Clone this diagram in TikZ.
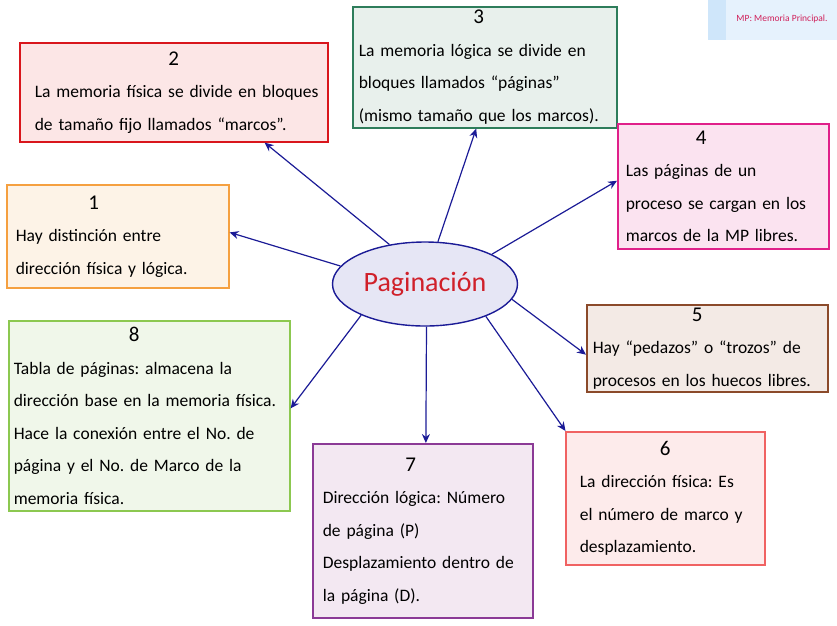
\documentclass[tikz,border=0pt]{standalone}
\usepackage{fontspec}
\setmainfont{Carlito}
\usetikzlibrary{arrows.meta,shapes.geometric}

\definecolor{arrowblue}{HTML}{1B1B96}
\definecolor{ellfill}{HTML}{E6E6F5}
\definecolor{titlered}{HTML}{D0202A}
\definecolor{orgline}{HTML}{F5A040}
\definecolor{orgfill}{HTML}{FDF3E7}
\definecolor{redline}{HTML}{D9161C}
\definecolor{redfill}{HTML}{FCE6E6}
\definecolor{grnline}{HTML}{2E7D5B}
\definecolor{grnfill}{HTML}{E8F0EC}
\definecolor{magline}{HTML}{E0208A}
\definecolor{magfill}{HTML}{FBE3F0}
\definecolor{brnline}{HTML}{8B4A2A}
\definecolor{brnfill}{HTML}{F3EAE5}
\definecolor{pnkline}{HTML}{F06262}
\definecolor{pnkfill}{HTML}{FDEBEB}
\definecolor{purline}{HTML}{8B3A96}
\definecolor{purfill}{HTML}{F3E8F2}
\definecolor{limline}{HTML}{8CC850}
\definecolor{limfill}{HTML}{F0F7EA}
\definecolor{legfill}{HTML}{E6F2FD}
\definecolor{legstrip}{HTML}{CFE6FA}
\definecolor{legtext}{HTML}{D0205A}

\newcommand{\boxnum}[2]{{\centering\hspace*{#1}{\fontsize{21}{30}\selectfont #2}\par}}
\frenchspacing
\hyphenpenalty=10000

\begin{document}
\begin{tikzpicture}[x=1pt, y=-1pt,
    box/.style={draw, line width=1.6pt, anchor=north west, inner ysep=2pt, align=left,
      font=\fontsize{17.5}{32.5}\selectfont},
    link/.style={arrowblue, line width=1.2pt, -{Stealth[length=9pt,width=8pt]}}]
  \useasboundingbox (0,0) rectangle (837,625);

  % Legend
  \fill[legfill] (708,0) rectangle (837,40);
  \fill[legstrip] (708,0) rectangle (726,40);
  \node (legend) at (782,19) [text=legtext, font=\fontsize{9.5}{11}\selectfont] {MP: Memoria Principal.};

  % Centre
  \node (ell) at (425,284) [ellipse, draw=arrowblue, line width=1.4pt, fill=ellfill,
    minimum width=185pt, minimum height=84pt, text=titlered, font=\fontsize{28}{30}\selectfont] {Paginación};

  % Boxes
  \node (b1) at (6,184) [box, draw=orgline, fill=orgfill, minimum width=222pt, minimum height=103pt, text width=204pt, inner xsep=9pt]
    {\boxnum{-48pt}{1}Hay distinción entre\\dirección física y lógica.};
  \node (b2) at (19,42) [box, draw=redline, fill=redfill, minimum width=308pt, minimum height=99pt, text width=300pt, inner xsep=4pt]
    {\boxnum{0pt}{2}\hspace*{11pt}La memoria física se divide en bloques\\\hspace*{11pt}de tamaño fijo llamados “marcos”.};
  \node (b3) at (352,6) [box, draw=grnline, fill=grnfill, minimum width=264pt, minimum height=121pt, text width=252pt, inner xsep=6pt]
    {\boxnum{-12pt}{3}La memoria lógica se divide en\\bloques llamados “páginas”\\(mismo tamaño que los marcos).};
  \node (b4) at (617,123) [box, draw=magline, fill=magfill, minimum width=211pt, minimum height=125pt, text width=195pt, inner xsep=8pt]
    {\boxnum{-44pt}{4}Las páginas de un\\proceso se cargan en los\\marcos de la MP libres.};
  \node (b5) at (586,304) [box, draw=brnline, fill=brnfill, minimum width=241pt, minimum height=87pt, text width=229pt, inner xsep=6pt]
    {\boxnum{-20pt}{5}Hay “pedazos” o “trozos” de\\procesos en los huecos libres.};
  \node (b6) at (565,431) [box, draw=pnkline, fill=pnkfill, minimum width=199pt, minimum height=133pt, text width=171pt, inner xsep=14pt]
    {\boxnum{0pt}{6}La dirección física: Es\\el número de marco y\\desplazamiento.};
  \node (b7) at (312,443) [box, draw=purline, fill=purfill, minimum width=220pt, minimum height=174pt, text width=200pt, inner xsep=10pt]
    {\boxnum{-24pt}{7}Dirección lógica: Número\\de página (P)\\Desplazamiento dentro de\\la página (D).};
  \node (b8) at (8,320) [box, draw=limline, fill=limfill, minimum width=281pt, minimum height=190pt, text width=271pt, inner xsep=5pt]
    {\boxnum{-30pt}{8}Tabla de páginas: almacena la\\dirección base en la memoria física.\\Hace la conexión entre el No. de\\página y el No. de Marco de la\\memoria física.};

  % Arrows
  \draw[link] (ell.168) -- (b1.2);
  \draw[link] (ell.132) -- (b2.-29);
  \draw[link] (ell.73) -- (b3.-98);
  \draw[link] (ell.24) -- (b4.177);
  \draw[link] (ell.-10) -- (b5.-177);
  \draw[link] (ell.-28) -- (b6.146);
  \draw[link] (ell.-88) -- (b7.88);
  \draw[link] (ell.206) -- (b8.3);
\end{tikzpicture}
\end{document}
